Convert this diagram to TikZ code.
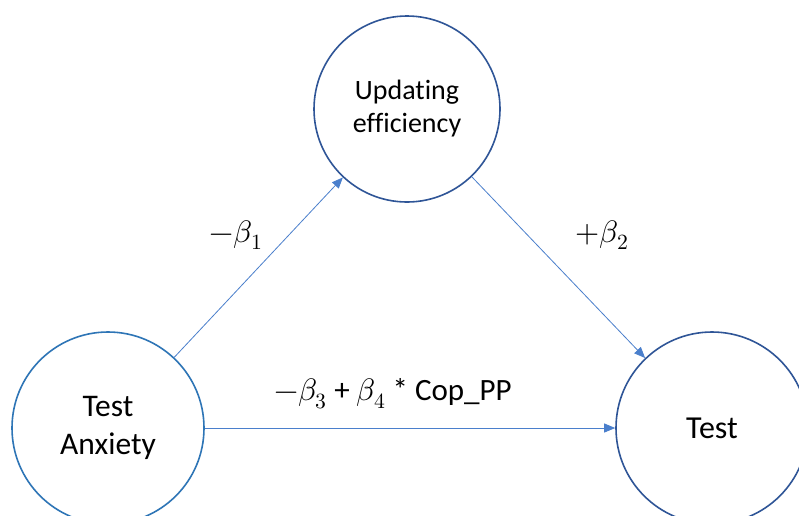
\documentclass[tikz,border=0pt]{standalone}
\usepackage{fontspec}
\usepackage{unicode-math}
\setmainfont{Carlito}[RawFeature=-liga]
\setmathfont{Latin Modern Math}
\usetikzlibrary{arrows.meta}
\definecolor{ringblue}{HTML}{2E75B6}
\definecolor{darkring}{HTML}{2F5597}
\definecolor{arrowblue}{HTML}{4A7FCC}
\begin{document}
\begin{tikzpicture}[x=1pt,y=-1pt,
    var/.style={circle, draw=darkring, line width=1.6pt, fill=white, inner sep=0pt, align=center},
    path/.style={draw=arrowblue, line width=0.8pt, -{Triangle[length=11pt,width=9pt]}},
    coef/.style={font=\fontsize{31}{36}\selectfont}]
    \clip (0,0) rectangle (799,515);
    \fill[white] (0,0) rectangle (799,515);

    \node[var, minimum size=186pt, font=\fontsize{28}{33}\selectfont] (upd) at (407,109) {Updating\\efficiency};
    \node[var, draw=ringblue, minimum size=192pt, font=\fontsize{31.5}{38}\selectfont] (anx) at (108,428) {Test\\Anxiety};
    \node[var, minimum size=192pt, font=\fontsize{32}{38}\selectfont] (test) at (712,428) {Test};

    \draw[path] (anx) -- (upd);
    \draw[path] (upd) -- (test);
    \draw[path] (anx) -- (test);

    \node[coef] (b1) at (236,235) {$-\beta_1$};
    \node[coef] (b2) at (602,235) {$+\beta_2$};
    \node[coef] (b34) at (393,394) {$-\beta_3$ + $\beta_4$ * Cop\_PP};
\end{tikzpicture}
\end{document}
